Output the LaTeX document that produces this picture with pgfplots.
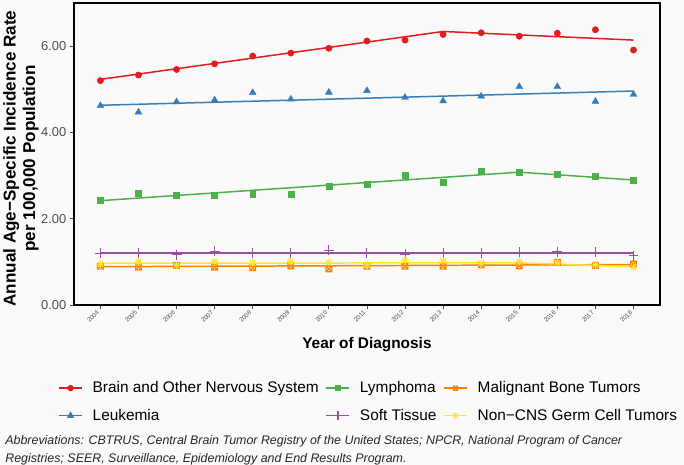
\documentclass[border=0pt]{standalone}
\usepackage{pgfplots}
\usepackage{pgfplotstable}
\pgfplotsset{compat=1.18}
\usepackage{fontspec}
\setmainfont{Liberation Sans}
\usetikzlibrary{backgrounds,plotmarks,calc}

\definecolor{bg}{HTML}{FAFAFA}
\definecolor{gray30}{HTML}{4D4D4D}
\definecolor{cbrain}{HTML}{E41A1C}
\definecolor{cleuk}{HTML}{377EB8}
\definecolor{clymph}{HTML}{4DAF4A}
\definecolor{csoft}{HTML}{984EA3}
\definecolor{cbone}{HTML}{FF7F00}
\definecolor{cgerm}{HTML}{FFE52E}

% square with a cross (R shape 7)
\pgfdeclareplotmark{sqx}{%
  \pgfpathrectangle{\pgfqpoint{-\pgfplotmarksize}{-\pgfplotmarksize}}{\pgfqpoint{2\pgfplotmarksize}{2\pgfplotmarksize}}%
  \pgfpathmoveto{\pgfqpoint{-\pgfplotmarksize}{-\pgfplotmarksize}}%
  \pgfpathlineto{\pgfqpoint{\pgfplotmarksize}{\pgfplotmarksize}}%
  \pgfpathmoveto{\pgfqpoint{-\pgfplotmarksize}{\pgfplotmarksize}}%
  \pgfpathlineto{\pgfqpoint{\pgfplotmarksize}{-\pgfplotmarksize}}%
  \pgfusepathqstroke}
% plus and x together (R shape 8)
\pgfdeclareplotmark{ast8}{%
  \pgfpathmoveto{\pgfqpoint{-\pgfplotmarksize}{0pt}}\pgfpathlineto{\pgfqpoint{\pgfplotmarksize}{0pt}}%
  \pgfpathmoveto{\pgfqpoint{0pt}{-\pgfplotmarksize}}\pgfpathlineto{\pgfqpoint{0pt}{\pgfplotmarksize}}%
  \pgfpathmoveto{\pgfqpoint{-0.72\pgfplotmarksize}{-0.72\pgfplotmarksize}}\pgfpathlineto{\pgfqpoint{0.72\pgfplotmarksize}{0.72\pgfplotmarksize}}%
  \pgfpathmoveto{\pgfqpoint{-0.72\pgfplotmarksize}{0.72\pgfplotmarksize}}\pgfpathlineto{\pgfqpoint{0.72\pgfplotmarksize}{-0.72\pgfplotmarksize}}%
  \pgfusepathqstroke}

% observed rates
\pgfplotstableread{
year brain leuk lymph soft bone germ
2004 5.20 4.62 2.43 1.20 0.90 0.95
2005 5.33 4.47 2.60 1.21 0.88 1.00
2006 5.46 4.71 2.54 1.17 0.92 0.92
2007 5.59 4.75 2.54 1.25 0.88 1.00
2008 5.77 4.92 2.58 1.21 0.87 0.98
2009 5.84 4.77 2.57 1.21 0.91 1.01
2010 5.95 4.93 2.76 1.27 0.84 0.98
2011 6.12 4.97 2.81 1.20 0.90 0.93
2012 6.14 4.81 3.00 1.18 0.90 1.04
2013 6.27 4.73 2.84 1.20 0.90 1.02
2014 6.31 4.84 3.11 1.21 0.93 0.97
2015 6.23 5.06 3.08 1.23 0.91 1.00
2016 6.30 5.06 3.03 1.24 0.99 0.98
2017 6.38 4.72 2.99 1.22 0.92 0.93
2018 5.91 4.88 2.90 1.14 0.95 0.88
}\rates

\begin{document}
\begin{tikzpicture}[show background rectangle, inner frame sep=0pt,
    background rectangle/.style={fill=bg, draw=none}]
\begin{axis}[
    name=ax,
    width=590pt, height=304pt, scale only axis,
    xmin=2003.3, xmax=2018.7, ymin=0, ymax=7,
    xtick={2004,...,2018}, ytick={0,2,4,6},
    tick pos=left, tick align=outside,
    major tick length=4pt,
    tick style={gray30, line width=0.8pt},
    axis line style={black, line width=1.6pt},
    /pgf/number format/assume math mode=true,
    x tick label style={/pgf/number format/1000 sep={}, rotate=45, anchor=east,
        font=\fontsize{6.3}{7}\selectfont, text=gray30},
    y tick label style={/pgf/number format/fixed, /pgf/number format/fixed zerofill,
        /pgf/number format/precision=2, font=\fontsize{13}{15}\selectfont, text=gray30},
    xlabel={Year of Diagnosis},
    xlabel style={at={(axis description cs:0.5,-0.132)}, anchor=center,
        font=\fontsize{15.5}{19}\selectfont\bfseries},
    ylabel={Annual Age−Specific Incidence Rate\\per 100,000 Population},
    ylabel style={at={(axis description cs:-0.090,0.485)}, anchor=center, align=center,
        font=\fontsize{17.2}{19.5}\selectfont\bfseries},
    legend columns=3,
    legend cell align=left,
    legend style={at={(axis description cs:0.503,-0.240)}, anchor=north,
        draw=none, fill=none, font=\fontsize{15.5}{19}\selectfont,
        /tikz/every odd column/.append style={column sep=8pt},
        /tikz/every even column/.append style={column sep=5pt},
        row sep=11pt},
    legend image code/.code={\draw[mark repeat=2,mark phase=2]
        plot coordinates {(0pt,0pt) (11.5pt,0pt) (23pt,0pt)};},
]
% joinpoint fits and observed points
\addplot[cbrain, line width=1.5pt, forget plot] coordinates {(2004,5.23) (2013,6.34) (2018,6.14)};
\addplot[cbrain, only marks, mark=*, mark size=3.2pt, forget plot] table[x=year, y=brain] {\rates};
\addplot[cleuk, line width=1.5pt, forget plot] coordinates {(2004,4.63) (2018,4.96)};
\addplot[cleuk, only marks, mark=triangle*, mark size=4pt, forget plot] table[x=year, y=leuk] {\rates};
\addplot[clymph, line width=1.5pt, forget plot] coordinates {(2004,2.42) (2015,3.08) (2018,2.90)};
\addplot[clymph, only marks, mark=square*, mark size=3pt, forget plot] table[x=year, y=lymph] {\rates};
\addplot[csoft, line width=1.5pt, forget plot] coordinates {(2004,1.21) (2018,1.21)};
\addplot[csoft, only marks, mark=+, mark size=5pt, line width=1pt, forget plot] table[x=year, y=soft] {\rates};
\addplot[cbone, line width=1.5pt, forget plot] coordinates {(2004,0.89) (2018,0.94)};
\addplot[cbone, only marks, mark=sqx, mark size=2.9pt, line width=1.1pt, forget plot] table[x=year, y=bone] {\rates};
\addplot[cgerm, line width=1.5pt, forget plot] coordinates {(2004,0.97) (2015,0.98) (2018,0.89)};
\addplot[cgerm, only marks, mark=ast8, mark size=3.8pt, line width=1.1pt, forget plot] table[x=year, y=germ] {\rates};

\addlegendimage{cbrain, line width=1.5pt, mark=*, mark size=2.4pt}
\addlegendentry{Brain and Other Nervous System}
\addlegendimage{clymph, line width=1.5pt, mark=square*, mark size=2.2pt}
\addlegendentry{Lymphoma}
\addlegendimage{cbone, line width=1.5pt, mark=sqx, mark size=2.2pt, mark options={line width=0.9pt}}
\addlegendentry{Malignant Bone Tumors}
\addlegendimage{cleuk, line width=1.5pt, mark=triangle*, mark size=2.9pt}
\addlegendentry{Leukemia}
\addlegendimage{csoft, line width=1.5pt, mark=+, mark size=4.5pt}
\addlegendentry{Soft Tissue}
\addlegendimage{cgerm, line width=1.5pt, mark=ast8, mark size=3.3pt, mark options={line width=0.9pt}}
\addlegendentry{Non−CNS Germ Cell Tumors}
\end{axis}
\path (ax.south west) ++(-70pt,-159pt) rectangle ++(684pt,466pt);
\node[anchor=north west, align=left, inner sep=0pt, text=black!85,
      font=\fontsize{12.5}{18}\selectfont\itshape]
  at ($(ax.south west)+(-69pt,-131pt)$)
  {Abbreviations: CBTRUS, Central Brain Tumor Registry of the United States; NPCR, National Program of Cancer\\
   Registries; SEER, Surveillance, Epidemiology and End Results Program.};
\end{tikzpicture}
\end{document}
